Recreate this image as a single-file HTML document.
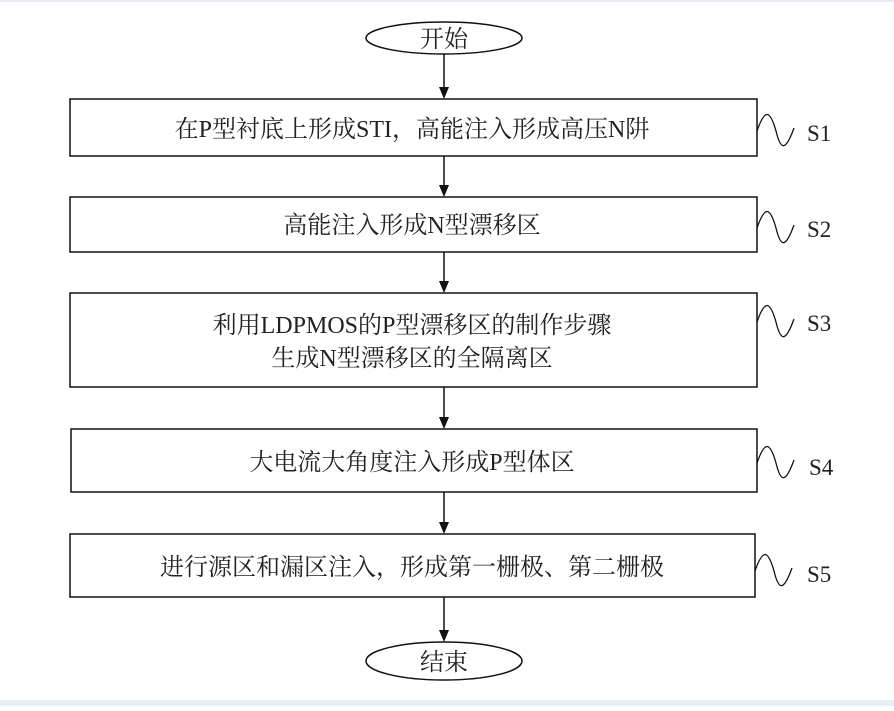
<!DOCTYPE html>
<html><head><meta charset="utf-8"><style>
body{margin:0;background:#fff;}
svg text{font-family:"Liberation Serif","Noto Serif CJK SC",serif;fill:#222;}
</style></head><body>
<svg width="894" height="706" viewBox="0 0 894 706" xmlns="http://www.w3.org/2000/svg">
<rect x="0" y="0" width="894" height="2" fill="#e4eaf0"/>
<rect x="0" y="700" width="894" height="6" fill="#e6f0f6"/>
<g stroke="#111" stroke-width="1.5" fill="none">
<ellipse cx="444" cy="38" rx="78" ry="16"/>
<ellipse cx="444" cy="661" rx="78" ry="19"/>
<rect x="70" y="99" width="687" height="57"/>
<rect x="70" y="197" width="687" height="55"/>
<rect x="70" y="293" width="687" height="94"/>
<rect x="71" y="429" width="686" height="63"/>
<rect x="70" y="534" width="685" height="63"/>
<line x1="444" y1="54" x2="444" y2="88"/>
<line x1="444" y1="156" x2="444" y2="186"/>
<line x1="444" y1="252" x2="444" y2="282"/>
<line x1="444" y1="387" x2="444" y2="418"/>
<line x1="444" y1="492" x2="444" y2="523"/>
<line x1="444" y1="597" x2="444" y2="631"/>
<g stroke-width="1.3">
<path d="M757,131 C765,108 770,110 776,131 C781,152 786,150 794,128"/>
<path d="M757,228 C765,205 770,207 776,228 C781,249 786,247 794,225"/>
<path d="M757,322 C765,299 770,301 776,322 C781,343 786,341 794,319"/>
<path d="M757,463 C765,440 770,442 776,463 C781,484 786,482 794,460"/>
<path d="M755,571 C763,548 768,550 774,571 C779,592 784,590 792,568"/>
</g>
</g>
<g fill="#111">
<path d="M439,87 L449,87 L444,99 Z"/>
<path d="M439,185 L449,185 L444,197 Z"/>
<path d="M439,281 L449,281 L444,293 Z"/>
<path d="M439,417 L449,417 L444,429 Z"/>
<path d="M439,522 L449,522 L444,534 Z"/>
<path d="M439,630 L449,630 L444,642 Z"/>
</g>
<g font-size="24" text-anchor="middle">
<text x="444" y="47">开始</text>
<text x="444" y="670">结束</text>
<text x="412" y="137">在P型衬底上形成STI，高能注入形成高压N阱</text>
<text x="412" y="233">高能注入形成N型漂移区</text>
<text x="412" y="333">利用LDPMOS的P型漂移区的制作步骤</text>
<text x="412" y="366">生成N型漂移区的全隔离区</text>
<text x="412" y="470">大电流大角度注入形成P型体区</text>
<text x="412" y="575">进行源区和漏区注入，形成第一栅极、第二栅极</text>
</g>
<g font-size="23">
<text x="807" y="141">S1</text>
<text x="807" y="237">S2</text>
<text x="807" y="331">S3</text>
<text x="809" y="475">S4</text>
<text x="807" y="582">S5</text>
</g>
</svg>
</body></html>
